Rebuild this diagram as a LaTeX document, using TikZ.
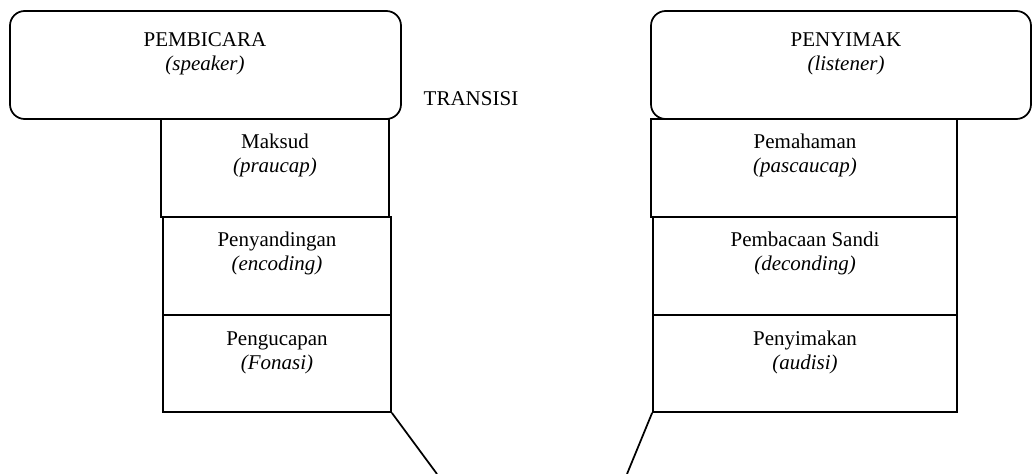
\documentclass[tikz,border=0pt]{standalone}
\usepackage{fontspec}
\setmainfont{Liberation Serif}
\usetikzlibrary{fit}
\begin{document}
\begin{tikzpicture}[x=0.75pt,y=-0.75pt,
  every node/.style={font=\fontsize{15.75pt}{18pt}\selectfont},
  bigbox/.style={draw, line width=1.3pt, rounded corners=11pt, inner sep=0pt},
  stepbox/.style={draw, line width=1.3pt, inner sep=0pt},
  lbl/.style={align=center, anchor=base, inner sep=0pt},
  conn/.style={line width=1.3pt}]
\useasboundingbox (0,0) rectangle (1033,474);
% left column
\node[bigbox, fit={(10,11) (401,119)}] (spk) {};
\node[stepbox, fit={(161,119) (389,217)}] (l1) {};
\node[stepbox, fit={(163,217) (391,315)}] (l2) {};
\node[stepbox, fit={(163,315) (391,412)}] (l3) {};
% right column
\node[bigbox, fit={(651,11) (1031,119)}] (lst) {};
\node[stepbox, fit={(651,119) (957,217)}] (r1) {};
\node[stepbox, fit={(653,217) (957,315)}] (r2) {};
\node[stepbox, fit={(653,315) (957,412)}] (r3) {};
% labels (base anchor = baseline of last line)
\node[lbl] (tspk) at (205,71) {PEMBICARA\\\textit{(speaker)}};
\node[lbl] (tl1) at (275,173) {Maksud\\\textit{(praucap)}};
\node[lbl] (tl2) at (277,271) {Penyandingan\\\textit{(encoding)}};
\node[lbl] (tl3) at (277,369) {Pengucapan\\\textit{(Fonasi)}};
\node[lbl] (tlst) at (846,71) {PENYIMAK\\\textit{(listener)}};
\node[lbl] (tr1) at (805,173) {Pemahaman\\\textit{(pascaucap)}};
\node[lbl] (tr2) at (805,271) {Pembacaan Sandi\\\textit{(deconding)}};
\node[lbl] (tr3) at (805,369) {Penyimakan\\\textit{(audisi)}};
\node[lbl] (trans) at (471,106) {TRANSISI};
% connectors
\coordinate (endL) at (437,474);
\coordinate (endR) at (627,474);
\draw[conn] (l3.south east) -- (endL);
\draw[conn] (r3.south west) -- (endR);
\end{tikzpicture}
\end{document}
